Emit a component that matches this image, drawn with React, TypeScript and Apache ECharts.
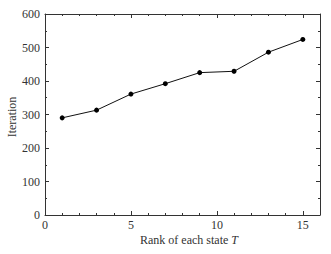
import React, { useEffect, useRef } from "react";
import * as echarts from "echarts";

const xValues = [1, 3, 5, 7, 9, 11, 13, 15];
const iterations = [290, 313, 361, 392, 425, 429, 486, 524];
const xAxisTitle = "Rank of each state ";
const xAxisTitleVar = "T";
const yAxisTitle = "Iteration";

const FONT = "'Liberation Serif', 'DejaVu Serif', serif";
const AX = "#333";
const FS = 12;

export default function App() {
  const ref = useRef<HTMLDivElement>(null);
  useEffect(() => {
    if (!ref.current) return;
    const chart = echarts.init(ref.current, undefined, { renderer: "svg" });
    const xCommon = {
      type: "value" as const,
      min: 0,
      max: 16,
      interval: 5,
      axisLine: { show: true, onZero: false, lineStyle: { color: AX, width: 1 } },
      axisTick: { show: true, inside: true, length: 4, lineStyle: { color: AX } },
      minorTick: { show: true, splitNumber: 5, length: 2, lineStyle: { color: AX } },
      splitLine: { show: false },
    };
    const yCommon = {
      type: "value" as const,
      min: 0,
      max: 600,
      interval: 100,
      axisLine: { show: true, onZero: false, lineStyle: { color: AX, width: 1 } },
      axisTick: { show: true, inside: true, length: 4, lineStyle: { color: AX } },
      minorTick: { show: true, splitNumber: 2, length: 2, lineStyle: { color: AX } },
      splitLine: { show: false },
    };
    chart.setOption({
      animation: false,
      grid: {
        left: 45,
        right: 11,
        top: 14,
        bottom: 39,
        containLabel: false,
        outerBoundsMode: "none",
      },
      xAxis: [
        {
          ...xCommon,
          position: "bottom",
          axisLabel: {
            color: AX,
            fontFamily: FONT,
            fontSize: FS,
            margin: 4,
            showMaxLabel: false,
          },
        },
        { ...xCommon, position: "top", axisLabel: { show: false } },
      ],
      yAxis: [
        {
          ...yCommon,
          position: "left",
          axisLabel: { color: AX, fontFamily: FONT, fontSize: FS, margin: 5 },
        },
        { ...yCommon, position: "right", axisLabel: { show: false } },
      ],
      graphic: [
        {
          type: "text",
          x: 12,
          y: 117,
          rotation: Math.PI / 2,
          style: {
            text: yAxisTitle,
            fontFamily: FONT,
            fontSize: FS,
            fill: AX,
            align: "center",
            verticalAlign: "middle",
          },
        },
        {
          type: "text",
          left: 140,
          top: 234,
          style: {
            text: "{a|" + xAxisTitle + "}{b|" + xAxisTitleVar + "}",
            rich: {
              a: { fontFamily: FONT, fontSize: FS, fill: AX },
              b: { fontFamily: FONT, fontSize: FS, fill: AX, fontStyle: "italic" },
            },
          },
        },
      ],
      series: [
        {
          type: "line",
          data: xValues.map((x, i) => [x, iterations[i]]),
          symbol: "circle",
          symbolSize: 5,
          itemStyle: { color: "#000" },
          lineStyle: { color: "#111", width: 1 },
        },
      ],
    });
    return () => chart.dispose();
  }, []);
  return (
    <div
      ref={ref}
      style={{ position: "absolute", left: 0, top: 0, width: 331, height: 254 }}
    />
  );
}
